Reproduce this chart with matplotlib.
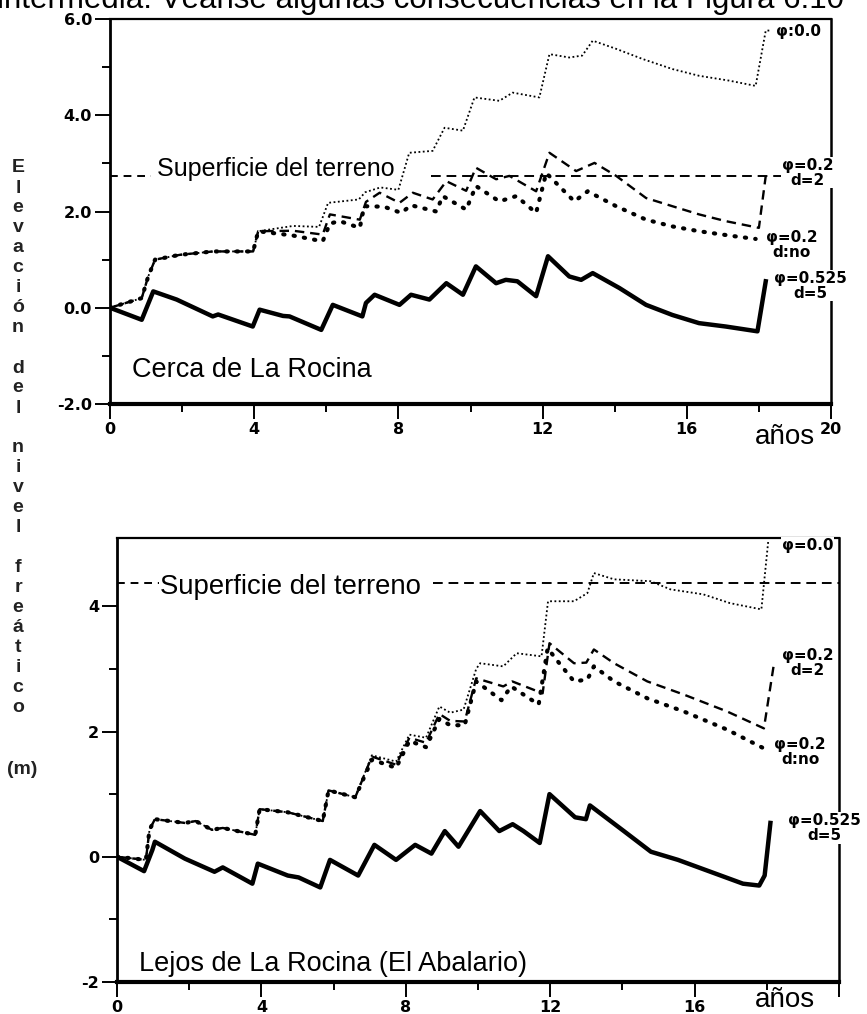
import matplotlib
matplotlib.use("Agg")
import matplotlib.pyplot as plt
import numpy as np

# ---- Cerca de La Rocina (upper panel) ----
t_cerca_525 = [0, 0.88, 1.2, 1.85, 2.85, 3.0, 3.96, 4.15, 4.8, 4.98, 5.86, 6.18, 7.0, 7.1,
               7.34, 8.03, 8.35, 8.86, 9.33, 9.79, 10.15, 10.71, 10.98, 11.3, 11.82, 12.15,
               12.74, 13.07, 13.39, 14.13, 14.87, 15.6, 16.34, 17.08, 17.96, 18.19]
h_cerca_525 = [0, -0.25, 0.34, 0.17, -0.18, -0.14, -0.39, -0.04, -0.17, -0.18, -0.46, 0.06,
               -0.18, 0.1, 0.27, 0.06, 0.27, 0.17, 0.51, 0.27, 0.86, 0.51, 0.58, 0.55, 0.24,
               1.07, 0.65, 0.58, 0.72, 0.41, 0.06, -0.15, -0.32, -0.39, -0.49, 0.55]

t_cerca_d2 = [0, 0.88, 1.06, 1.25, 1.94, 2.86, 3.97, 4.11, 5.08, 5.9, 6.1, 6.93, 7.1, 7.48,
              8.03, 8.4, 8.95, 9.33, 9.88, 10.15, 10.71, 11.08, 11.82, 12.19, 12.93, 13.44,
              14.04, 14.87, 15.6, 16.34, 17.08, 18.0, 18.19]
h_cerca_d2 = [0, 0.2, 0.65, 1.0, 1.1, 1.17, 1.17, 1.59, 1.6, 1.52, 1.94, 1.83, 2.2, 2.39,
              2.18, 2.39, 2.25, 2.63, 2.43, 2.91, 2.67, 2.74, 2.42, 3.22, 2.84, 3.01,
              2.74, 2.28, 2.11, 1.94, 1.8, 1.66, 2.74]

t_cerca_dno = [0, 0.88, 1.06, 1.25, 1.94, 2.86, 3.97, 4.11, 5.08, 5.9, 6.1, 6.37, 6.93, 7.05,
               7.6, 8.08, 8.35, 9.05, 9.23, 9.88, 10.15, 10.8, 11.27, 11.82, 12.1, 12.88,
               13.25, 14.04, 14.87, 15.6, 16.34, 17.28, 17.91]
h_cerca_dno = [0, 0.2, 0.65, 1.0, 1.1, 1.17, 1.17, 1.59, 1.5, 1.38, 1.75, 1.8, 1.66, 2.11,
               2.1, 1.97, 2.13, 2.0, 2.32, 2.04, 2.53, 2.21, 2.32, 1.97, 2.8, 2.21,
               2.42, 2.11, 1.83, 1.69, 1.59, 1.49, 1.43]

t_cerca_00 = [0, 0.88, 1.06, 1.25, 1.94, 2.86, 3.97, 4.11, 5.08, 5.8, 6.05, 6.9, 7.08, 7.5,
              8.0, 8.3, 8.95, 9.28, 9.79, 10.11, 10.8, 11.17, 11.91, 12.19, 12.74, 13.1,
              13.39, 14.04, 14.77, 15.6, 16.34, 17.17, 17.91, 18.19, 18.35]
h_cerca_00 = [0, 0.2, 0.65, 1.0, 1.1, 1.17, 1.17, 1.59, 1.7, 1.68, 2.18, 2.25, 2.4, 2.5,
              2.45, 3.22, 3.26, 3.74, 3.68, 4.37, 4.3, 4.47, 4.37, 5.27, 5.2, 5.24,
              5.55, 5.38, 5.17, 4.96, 4.82, 4.72, 4.61, 5.76, 5.76]

terreno_cerca = 2.73

# ---- Lejos de La Rocina (lower panel) ----
t_lejos_525 = [0, 0.75, 0.98, 1.05, 1.88, 2.7, 2.93, 3.75, 3.9, 4.73, 5.03, 5.63, 5.9, 6.68,
               7.13, 7.73, 8.26, 8.71, 9.08, 9.46, 10.06, 10.59, 10.96, 11.26, 11.71, 11.98,
               12.69, 12.99, 13.1, 14.04, 14.79, 15.54, 16.44, 17.34, 17.79, 17.94, 18.1]
h_lejos_525 = [0, -0.23, 0.11, 0.24, -0.03, -0.24, -0.17, -0.43, -0.11, -0.3, -0.33, -0.49,
               -0.05, -0.3, 0.19, -0.05, 0.19, 0.05, 0.41, 0.16, 0.73, 0.41, 0.52, 0.41,
               0.22, 1.0, 0.63, 0.6, 0.82, 0.41, 0.08, -0.05, -0.24, -0.43, -0.46, -0.3, 0.54]

t_lejos_d2 = [0, 0.8, 0.9, 1.05, 1.88, 2.18, 2.63, 2.93, 3.83, 3.95, 4.73, 5.7, 5.86, 6.6,
              7.06, 7.73, 8.1, 8.56, 8.93, 9.23, 9.63, 9.95, 10.7, 10.95, 11.79, 11.98,
              12.66, 13.0, 13.21, 13.77, 14.69, 15.7, 16.9, 17.92, 18.2]
h_lejos_d2 = [0, -0.05, 0.43, 0.6, 0.54, 0.57, 0.43, 0.46, 0.35, 0.76, 0.71, 0.57, 1.06, 0.95,
              1.6, 1.47, 1.9, 1.82, 2.28, 2.17, 2.16, 2.85, 2.72, 2.8, 2.61, 3.41,
              3.09, 3.1, 3.31, 3.09, 2.8, 2.59, 2.32, 2.05, 3.09]

t_lejos_dno = [0, 0.8, 0.9, 1.05, 1.88, 2.18, 2.63, 2.93, 3.83, 3.95, 4.73, 5.7, 5.86, 6.6,
               7.06, 7.73, 8.1, 8.56, 8.93, 9.23, 9.63, 9.95, 10.65, 10.92, 11.68, 11.93,
               12.21, 12.66, 13.03, 13.21, 13.77, 14.69, 15.7, 16.9, 17.92]
h_lejos_dno = [0, -0.05, 0.43, 0.6, 0.54, 0.57, 0.43, 0.46, 0.35, 0.76, 0.71, 0.57, 1.06, 0.95,
               1.55, 1.42, 1.85, 1.75, 2.2, 2.1, 2.1, 2.8, 2.5, 2.72, 2.43, 3.33,
               3.12, 2.8, 2.83, 3.04, 2.8, 2.53, 2.32, 2.03, 1.73]

t_lejos_00 = [0, 0.8, 0.9, 1.05, 1.88, 2.18, 2.63, 2.93, 3.83, 3.95, 4.73, 5.7, 5.86, 6.6,
              7.06, 7.73, 8.1, 8.56, 8.93, 9.23, 9.6, 9.95, 10.06, 10.7, 11.07, 11.76,
              11.94, 12.66, 13.03, 13.21, 13.77, 14.78, 15.33, 16.24, 16.98, 17.85, 18.04]
h_lejos_00 = [0, -0.05, 0.43, 0.6, 0.54, 0.57, 0.43, 0.46, 0.35, 0.76, 0.71, 0.57, 1.06, 0.95,
              1.62, 1.52, 1.95, 1.9, 2.4, 2.3, 2.35, 3.0, 3.09, 3.04, 3.25, 3.2,
              4.08, 4.08, 4.21, 4.53, 4.43, 4.4, 4.27, 4.19, 4.05, 3.95, 5.04]

terreno_lejos = 4.37

ylabel_text = "Elevación del nivel freático"

TXT = "Liberation Sans"
NUM = "DejaVu Sans"

fig = plt.figure(figsize=(8.67, 10.14), dpi=100)
W, H = 867, 1014


def px_axes(left, top, right, bottom):
    return fig.add_axes([left / W, 1 - bottom / H, (right - left) / W, (bottom - top) / H])


def style_axes(ax, ylim, ymajor, ylabels, xlabels):
    ax.set_xlim(0, 20)
    ax.set_ylim(*ylim)
    ax.set_xticks([0, 4, 8, 12, 16, 20])
    ax.set_xticklabels(xlabels, fontfamily=NUM, fontweight="bold", fontsize=11.5)
    ax.set_xticks([2, 6, 10, 14, 18], minor=True)
    ax.set_yticks(ymajor)
    ax.set_yticklabels(ylabels, fontfamily=NUM, fontweight="bold", fontsize=11.5)
    ax.set_yticks([v + 1 for v in ymajor[:-1]], minor=True)
    ax.tick_params(which="major", direction="out", length=11, width=1.4, pad=2)
    ax.tick_params(which="minor", direction="out", length=6, width=1.4)
    ax.spines["left"].set_linewidth(2.0)
    ax.spines["bottom"].set_linewidth(3.0)
    ax.spines["top"].set_linewidth(1.6)
    ax.spines["right"].set_linewidth(1.8)


def draw_series(ax, t525, h525, td2, hd2, tdno, hdno, t00, h00):
    ax.plot(t00, h00, color="black", lw=1.3, linestyle=(0, (1, 1.4)))
    ax.plot(tdno, hdno, color="black", lw=3.0, linestyle=(0, (0.3, 2.2)),
            dash_capstyle="round")
    ax.plot(td2, hd2, color="black", lw=1.7, linestyle=(0, (4, 2.5)))
    ax.plot(t525, h525, color="black", lw=3.2, solid_joinstyle="round")


def phi_label(ax, x, y, s):
    ax.text(x, y, s, ha="center", va="center", fontsize=11, fontweight="bold",
            fontfamily=NUM, linespacing=1.0, clip_on=False, zorder=10,
            bbox=dict(facecolor="white", edgecolor="none", pad=0.5))


# upper panel
ax1 = px_axes(110, 19, 831, 404)
style_axes(ax1, (-2, 6), [-2, 0, 2, 4, 6], ["-2.0", "0.0", "2.0", "4.0", "6.0"],
           ["0", "4", "8", "12", "16", "20"])
draw_series(ax1, t_cerca_525, h_cerca_525, t_cerca_d2, h_cerca_d2,
            t_cerca_dno, h_cerca_dno, t_cerca_00, h_cerca_00)
ax1.plot([0, 1.15], [terreno_cerca] * 2, color="black", lw=1.4, linestyle=(0, (4, 3)))
ax1.plot([8.9, 18.6], [terreno_cerca] * 2, color="black", lw=1.4, linestyle=(0, (5, 3)))
ax1.text(1.3, terreno_cerca + 0.15, "Superficie del terreno", fontsize=18, fontfamily=TXT,
         va="center", ha="left")
ax1.text(0.6, -1.29, "Cerca de La Rocina", fontsize=19.5, fontfamily=TXT, va="center")
phi_label(ax1, 19.1, 5.75, "φ:0.0")
phi_label(ax1, 19.35, 2.81, "φ=0.2\nd=2")
phi_label(ax1, 18.9, 1.31, "φ=0.2\nd:no")
phi_label(ax1, 19.42, 0.46, "φ=0.525\nd=5")
fig.text(785 / W, 1 - 437 / H, "años", fontsize=20, fontfamily=TXT, ha="center", va="center")

# lower panel
ax2 = px_axes(117, 538, 839, 982)
style_axes(ax2, (-2, 5.09), [-2, 0, 2, 4], ["-2", "0", "2", "4"],
           ["0", "4", "8", "12", "16", ""])
draw_series(ax2, t_lejos_525, h_lejos_525, t_lejos_d2, h_lejos_d2,
            t_lejos_dno, h_lejos_dno, t_lejos_00, h_lejos_00)
ax2.plot([0, 1.15], [terreno_lejos] * 2, color="black", lw=1.4, linestyle=(0, (4, 3)))
ax2.plot([8.75, 20], [terreno_lejos] * 2, color="black", lw=1.4, linestyle=(0, (5, 3)))
ax2.text(1.2, terreno_lejos - 0.07, "Superficie del terreno", fontsize=19.8, fontfamily=TXT,
         va="center", ha="left")
ax2.text(0.6, -1.72, "Lejos de La Rocina (El Abalario)", fontsize=19.5, fontfamily=TXT,
         va="center")
phi_label(ax2, 19.14, 4.97, "φ=0.0")
phi_label(ax2, 19.14, 3.09, "φ=0.2\nd=2")
phi_label(ax2, 18.92, 1.67, "φ=0.2\nd:no")
phi_label(ax2, 19.6, 0.46, "φ=0.525\nd=5")
fig.text(785 / W, 1 - 1000 / H, "años", fontsize=20, fontfamily=TXT, ha="center", va="center")

# vertical axis title, one letter per line
y_px = 168
for word in ylabel_text.split(" "):
    for ch in word:
        fig.text(18 / W, 1 - y_px / H, ch, fontsize=14, fontweight="bold", fontfamily=TXT,
                 color="#222222", ha="center", va="center")
        y_px += 20
    y_px += 20
fig.text(22 / W, 1 - 770 / H, "(m)", fontsize=14, fontweight="bold", fontfamily=TXT,
         color="#222222", ha="center", va="center")

# running text of the page above the figure, cut by the top edge
fig.text(-3 / W, 1 - 8 / H, "intermedia. Véanse algunas consecuencias en la Figura 6.10",
         fontsize=22.5, fontfamily=TXT, va="baseline", ha="left")

fig.savefig("out.png", dpi=100, facecolor="white")
